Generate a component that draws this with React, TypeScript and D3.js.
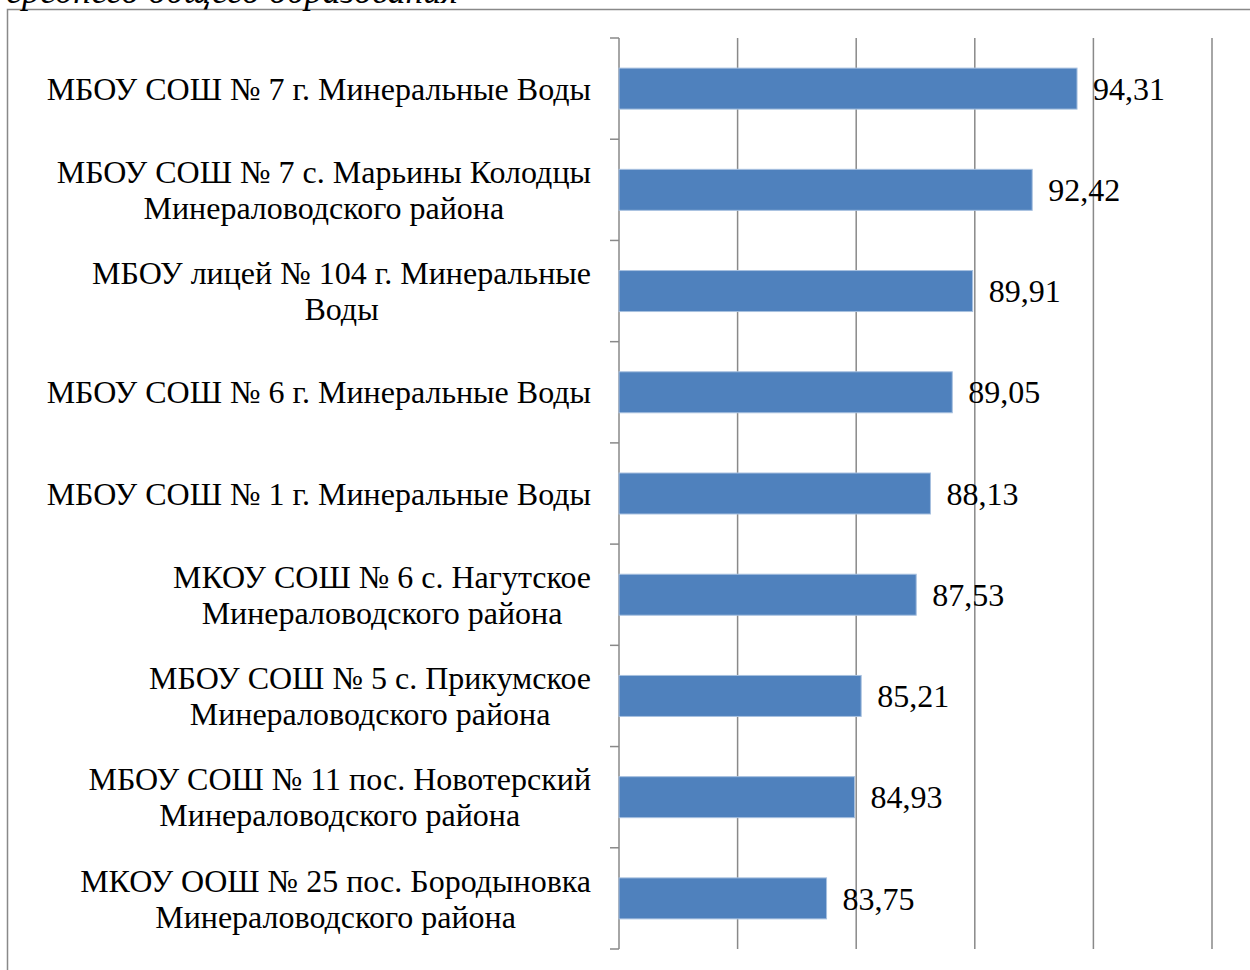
import React, { useRef, useEffect } from 'react';
import * as d3 from 'd3';

const schools = [
  'МБОУ СОШ № 7 г. Минеральные Воды',
  'МБОУ СОШ № 7 с. Марьины Колодцы\nМинераловодского района',
  'МБОУ лицей № 104 г. Минеральные\nВоды',
  'МБОУ СОШ № 6 г. Минеральные Воды',
  'МБОУ СОШ № 1 г. Минеральные Воды',
  'МКОУ СОШ № 6 с. Нагутское\nМинераловодского района',
  'МБОУ СОШ № 5 с. Прикумское\nМинераловодского района',
  'МБОУ СОШ № 11 пос. Новотерский\nМинераловодского района',
  'МКОУ ООШ № 25 пос. Бородыновка\nМинераловодского района',
];
const scores = [94.31, 92.42, 89.91, 89.05, 88.13, 87.53, 85.21, 84.93, 83.75];
const xTicks = [75, 80, 85, 90, 95, 100];
const caption = 'среднего общего образования';

const W = 1250;
const H = 970;
const FONT = '"Liberation Serif", "Times New Roman", serif';
const FS = 32;

function App() {
  const svgRef = useRef<SVGSVGElement>(null);

  useEffect(() => {
    if (!svgRef.current) return;
    const svg = d3.select(svgRef.current);
    svg.selectAll('*').remove();

    const left = 619;
    const right = 1212;
    const top = 38;
    const bottom = 949;
    const grey = '#898989';

    const x = d3.scaleLinear().domain([75, 100]).range([left, right]);
    const y = d3.scaleBand<string>()
      .domain(schools)
      .range([top, bottom])
      .paddingInner(0.595)
      .paddingOuter(0.2975);

    // outer frame of the chart
    svg.append('rect')
      .attr('x', 7.5).attr('y', 9.5)
      .attr('width', W + 20).attr('height', H + 20)
      .attr('fill', 'none')
      .attr('stroke', grey)
      .attr('stroke-width', 1.5);

    // caption that is cut by the top edge
    svg.append('text')
      .attr('x', 6).attr('y', 3)
      .attr('font-family', FONT)
      .attr('font-style', 'italic')
      .attr('font-size', 36)
      .text(caption);

    // vertical grid
    svg.append('g')
      .selectAll('line')
      .data(xTicks.slice(1))
      .join('line')
      .attr('x1', d => x(d)).attr('x2', d => x(d))
      .attr('y1', top).attr('y2', bottom)
      .attr('stroke', grey)
      .attr('stroke-width', 1.5);

    // category axis with ticks between bands
    const step = y.step();
    const bounds = d3.range(schools.length + 1).map(i => top + i * step);
    svg.append('line')
      .attr('x1', left).attr('x2', left)
      .attr('y1', top).attr('y2', bottom)
      .attr('stroke', grey).attr('stroke-width', 1.5);
    svg.append('g')
      .selectAll('line')
      .data(bounds)
      .join('line')
      .attr('x1', left - 9).attr('x2', left)
      .attr('y1', d => d).attr('y2', d => d)
      .attr('stroke', grey).attr('stroke-width', 1.5);

    // bars
    svg.append('g')
      .selectAll('rect')
      .data(schools)
      .join('rect')
      .attr('x', x(75))
      .attr('y', d => y(d)!)
      .attr('width', (d, i) => x(scores[i]) - x(75))
      .attr('height', y.bandwidth())
      .attr('fill', '#4f81bd')
      .attr('stroke', '#a7c0df')
      .attr('stroke-width', 1);

    // value labels
    svg.append('g')
      .selectAll('text')
      .data(schools)
      .join('text')
      .attr('x', (d, i) => x(scores[i]) + 16)
      .attr('y', d => y(d)! + y.bandwidth() / 2)
      .attr('dy', '0.35em')
      .attr('font-family', FONT)
      .attr('font-size', FS)
      .text((d, i) => d3.format('.2f')(scores[i]).replace('.', ','));

    // category labels: lines centred on each other, block right-aligned
    const labelRight = 591;
    const lineH = 36;
    schools.forEach(name => {
      const lines = name.split('\n');
      const cy = y(name)! + y.bandwidth() / 2;
      const g = svg.append('g');
      const texts = lines.map((ln, j) =>
        g.append('text')
          .attr('font-family', FONT)
          .attr('font-size', FS)
          .attr('text-anchor', 'middle')
          .attr('y', cy + (j - (lines.length - 1) / 2) * lineH)
          .attr('dy', '0.35em')
          .text(ln)
      );
      const widest = d3.max(texts, t => (t.node() as SVGTextElement).getComputedTextLength()) || 0;
      texts.forEach(t => t.attr('x', labelRight - widest / 2));
    });
  }, []);

  return (
    <svg
      ref={svgRef}
      width={W}
      height={H}
      style={{ position: 'absolute', left: 0, top: 0, background: '#fff' }}
    />
  );
}

export default App;
